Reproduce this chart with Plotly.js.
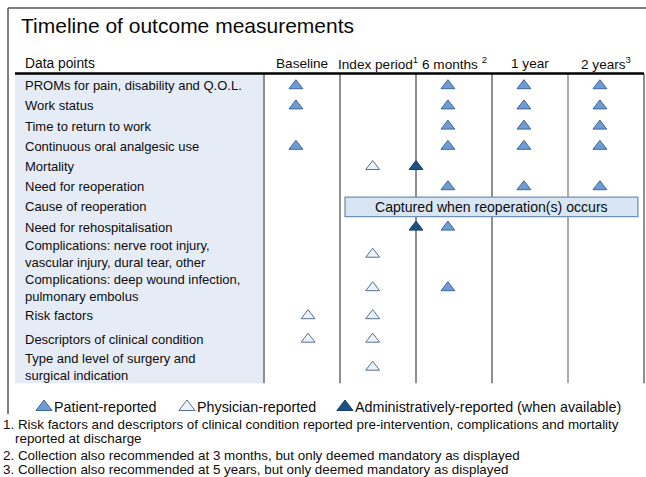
<!DOCTYPE html>
<html>
<head>
<meta charset="utf-8">
<script src="https://cdn.plot.ly/plotly-3.0.1.min.js"></script>
<style>html,body{margin:0;padding:0;background:#fff}#chart{width:646px;height:477px}</style>
</head>
<body>
<div id="chart"></div>
<script>
// ---------------- DATA ----------------
const title = "Timeline of outcome measurements";
const rowHeader = "Data points";
const rows = [
  "PROMs for pain, disability and Q.O.L.",
  "Work status",
  "Time to return to work",
  "Continuous oral analgesic use",
  "Mortality",
  "Need for reoperation",
  "Cause of reoperation",
  "Need for rehospitalisation",
  "Complications: nerve root injury,<br>vascular injury, dural tear, other",
  "Complications: deep wound infection,<br>pulmonary embolus",
  "Risk factors",
  "Descriptors of clinical condition",
  "Type and level of surgery and<br>surgical indication"
];
const columns = ["Baseline", "Index period", "6 months", "1 year", "2 years"];
const columnNotes = ["", "1", "2", "", "3"];

// Patient-reported measurements: [row, column]
const patientRows = [0,0,0,0, 1,1,1,1, 2,2,2, 3,3,3,3, 5,5,5, 7, 9];
const patientCols = [0,2,3,4, 0,2,3,4, 2,3,4, 0,2,3,4, 2,3,4, 2, 2];
// Physician-reported measurements
const physicianRows = [4, 8, 9, 10,10, 11,11, 12];
const physicianCols = [1, 1, 1, 0, 1,  0, 1,  1];
// Administratively-reported (at discharge = end of index period)
const adminRows = [4, 7];
const adminCols = [1, 1];
const capturedRow = 6;
const capturedText = "Captured when reoperation(s) occurs";
const capturedFrom = 1, capturedTo = 4;

const legendNames = ["Patient-reported", "Physician-reported", "Administratively-reported (when available)"];
const footnotes = [
  "1. Risk factors and descriptors of clinical condition reported pre-intervention, complications and mortality",
  "reported at discharge",
  "2. Collection also recommended at 3 months, but only deemed mandatory as displayed",
  "3. Collection also recommended at 5 years, but only deemed mandatory as displayed"
];

// ---------------- LAYOUT GEOMETRY ----------------
const W = 646, H = 477;
const TX0 = 264, CW = 76;               // table columns start & width (px)
const X = px => (px - TX0) / CW;        // px -> column units
const rowTop0 = 75.6;
const rowHeights = [20.2,20.2,20.2,20.2,20.2,20.2,20.2,20.2,34,33,23,24,32];
const rowCenters = [];
let acc = rowTop0;
rowHeights.forEach(h => { rowCenters.push(acc + h/2); acc += h; });
const tableBottom = acc;
const patOff = [0.42,0.42,0.42,0.42,0.42];
const phyOff = [0.58,0.43,0.43,0.43,0.43];

const C = {
  text: "#0d0d0d", panel: "#e5ecf6", grid: "#8f8f8f", frame: "#555555",
  patFill: "#6e9bd2", patLine: "#3e689c",
  phyFill: "#edf2fa", phyLine: "#56708f",
  admFill: "#1c5185", admLine: "#173f69",
  boxFill: "#d8e5f3", boxLine: "#7190b5"
};
const FONT = "Liberation Sans, Arial, Helvetica, sans-serif";

function tri(fill, line) {
  return {symbol: "triangle-up", size: 12, color: fill, line: {color: line, width: 1}};
}

const traces = [
  { type: "scatter", mode: "markers", hoverinfo: "skip", showlegend: false,
    x: patientCols.map(c => c + patOff[c]), y: patientRows.map(r => rowCenters[r]),
    marker: tri(C.patFill, C.patLine) },
  { type: "scatter", mode: "markers", hoverinfo: "skip", showlegend: false,
    x: physicianCols.map(c => c + phyOff[c]), y: physicianRows.map(r => rowCenters[r]),
    marker: tri(C.phyFill, C.phyLine) },
  { type: "scatter", mode: "markers", hoverinfo: "skip", showlegend: false,
    x: adminCols.map(c => c + 1), y: adminRows.map(r => rowCenters[r]),
    marker: tri(C.admFill, C.admLine) }
];

// legend (drawn manually for tight symbol/text spacing)
const legendY = 407;
const legendTriPx = [44, 187, 345];
traces.push({ type: "scatter", mode: "markers", hoverinfo: "skip", showlegend: false,
  x: legendTriPx.map(X), y: legendTriPx.map(() => legendY),
  marker: {symbol: "triangle-up", size: 14,
    color: [C.patFill, C.phyFill, C.admFill],
    line: {color: [C.patLine, C.phyLine, C.admLine], width: 1}} });

const shapes = [];
const annotations = [];
// frame
shapes.push({type: "line", xref: "x", yref: "y", x0: X(8), x1: X(8), y0: 8, y1: 414, line: {color: C.frame, width: 1.5}, layer: "below"});
shapes.push({type: "line", xref: "x", yref: "y", x0: X(8), x1: X(646), y0: 8, y1: 8, line: {color: C.frame, width: 1.5}, layer: "below"});
// label panel
shapes.push({type: "rect", xref: "x", yref: "y", x0: X(15), x1: 0, y0: 74, y1: tableBottom, fillcolor: C.panel, line: {width: 0}, layer: "below"});
// column lines
for (let c = 0; c <= columns.length; c++) {
  shapes.push({type: "line", xref: "x", yref: "y", x0: c, x1: c, y0: 74, y1: tableBottom,
    line: {color: C.grid, width: c === 4 ? 1.5 : 2}, layer: "below"});
}
// header rule
shapes.push({type: "line", xref: "x", yref: "y", x0: X(15), x1: columns.length, y0: 73.5, y1: 73.5, line: {color: "#000", width: 2.5}, layer: "below"});
// captured box
const bx0 = capturedFrom + 0.066, bx1 = capturedTo + 0.92;
shapes.push({type: "rect", xref: "x", yref: "y", x0: bx0, x1: bx1,
  y0: rowCenters[capturedRow] - 9.8, y1: rowCenters[capturedRow] + 9.8,
  fillcolor: C.boxFill, line: {color: C.boxLine, width: 1.3}, layer: "below"});
annotations.push({xref: "x", yref: "y", x: (bx0 + bx1)/2, y: rowCenters[capturedRow],
  text: capturedText, showarrow: false, xanchor: "center", yanchor: "middle", font: {size: 14.1, color: C.text}});

// title
annotations.push({xref: "x", yref: "y", x: X(19), y: 25, text: title, showarrow: false,
  xanchor: "left", yanchor: "middle", font: {size: 21, color: "#0a0a0a"}});
// header
annotations.push({xref: "x", yref: "y", x: X(23), y: 63, text: rowHeader, showarrow: false,
  xanchor: "left", yanchor: "middle", font: {size: 13.8, color: C.text}});
columns.forEach((c, i) => {
  const note = columnNotes[i] ? (i === 2 ? " " : "") + "<sup>" + columnNotes[i] + "</sup>" : "";
  annotations.push({xref: "x", yref: "y", x: i + 0.5, y: 63, text: c + note, showarrow: false,
    xanchor: "center", yanchor: "middle", font: {size: 13.6, color: C.text}});
});
// row labels
rows.forEach((r, i) => {
  annotations.push({xref: "x", yref: "y", x: X(23), y: rowCenters[i], text: r, showarrow: false,
    xanchor: "left", yanchor: "middle", align: "left", font: {size: 13, color: C.text}});
});
// legend texts
legendNames.forEach((n, i) => {
  annotations.push({xref: "x", yref: "y", x: X(legendTriPx[i] + 8), y: legendY, text: n, showarrow: false,
    xanchor: "left", yanchor: "middle", font: {size: 14.3, color: C.text}});
});
// footnotes
const footX = [1, 13, 1, 1];
const footY = [424, 438.5, 455, 469.5];
footnotes.forEach((f, i) => {
  annotations.push({xref: "x", yref: "y", x: X(footX[i]), y: footY[i], text: f, showarrow: false,
    xanchor: "left", yanchor: "middle", font: {size: 13.4, color: C.text}});
});

const layout = {
  width: W, height: H,
  margin: {l: 0, r: 0, t: 0, b: 0, pad: 0},
  paper_bgcolor: "#fff", plot_bgcolor: "#fff",
  font: {family: FONT, color: C.text},
  showlegend: false,
  xaxis: {range: [X(0), X(W)], visible: false, fixedrange: true},
  yaxis: {range: [H, 0], visible: false, fixedrange: true},
  shapes: shapes, annotations: annotations
};
Plotly.newPlot("chart", traces, layout, {staticPlot: true, displayModeBar: false});
</script>
</body>
</html>
